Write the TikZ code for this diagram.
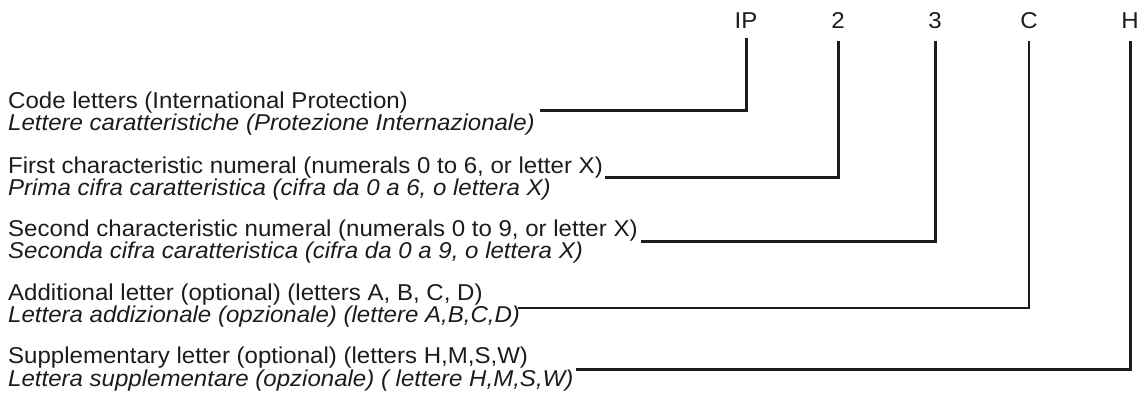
\documentclass[tikz,border=0pt]{standalone}
\usepackage{fontspec}
\setmainfont{Liberation Sans}[FakeStretch=1.05]
\definecolor{ink}{RGB}{30,27,28}
\newcommand{\engl}[1]{{\upshape #1}}
\newcommand{\ital}[1]{{\itshape #1}}
\begin{document}
\begin{tikzpicture}[x=1pt,y=-1pt,
  desc/.style={anchor=base west,inner sep=0pt,text=ink,align=left,
    font=\fontsize{22.9}{20.5}\selectfont},
  code/.style={anchor=base,inner sep=0pt,text=ink,font=\fontsize{22.9}{24}\selectfont},
  lead/.style={draw=ink,line width=3pt,line join=miter}]
\useasboundingbox[fill=white] (0,0) rectangle (1140,394);
% top code letters
\node[code] (ip) at (746,28) {IP};
\node[code] (n2) at (838,28) {2};
\node[code] (n3) at (935,28) {3};
\node[code] (lc) at (1029,28) {C};
\node[code] (lh) at (1130,28) {H};
% descriptions (anchor = baseline of the italic line)
\node[desc] (d1) at (8,130.5) {\engl{Code letters (International Protection)}\\
  \ital{Lettere caratteristiche (Protezione Internazionale)}};
\node[desc] (d2) at (8,195.5) {\engl{First characteristic numeral (numerals 0 to 6, or letter X)}\\
  \ital{Prima cifra caratteristica (cifra da 0 a 6, o lettera X)}};
\node[desc] (d3) at (8,258.5) {\engl{Second characteristic numeral (numerals 0 to 9, or letter X)}\\
  \ital{Seconda cifra caratteristica (cifra da 0 a 9, o lettera X)}};
\node[desc] (d4) at (8,322.5) {\engl{Additional letter (optional) (letters A, B, C, D)}\\
  \ital{Lettera addizionale (opzionale) (lettere A,B,C,D)}};
\node[desc] (d5) at (8,386) {\engl{Supplementary letter (optional) (letters H,M,S,W)}\\
  \ital{Lettera supplementare (opzionale) ( lettere H,M,S,W)}};
% leader start points
\coordinate (s1) at (540,110);
\coordinate (s2) at (605,177);
\coordinate (s3) at (641,241);
\coordinate (s4) at (518,308);
\coordinate (s5) at (576,369);
% leaders
\draw[lead] (s1) -| ([yshift=-10pt]ip.base);
\draw[lead] (s2) -| ([yshift=-13pt]n2.base);
\draw[lead] (s3) -| ([yshift=-13pt]n3.base);
\draw[lead,line width=2.5pt] (s4) -| ([yshift=-13pt]lc.base);
\draw[lead] (s5) -| ([yshift=-13pt]lh.base);
\end{tikzpicture}
\end{document}
